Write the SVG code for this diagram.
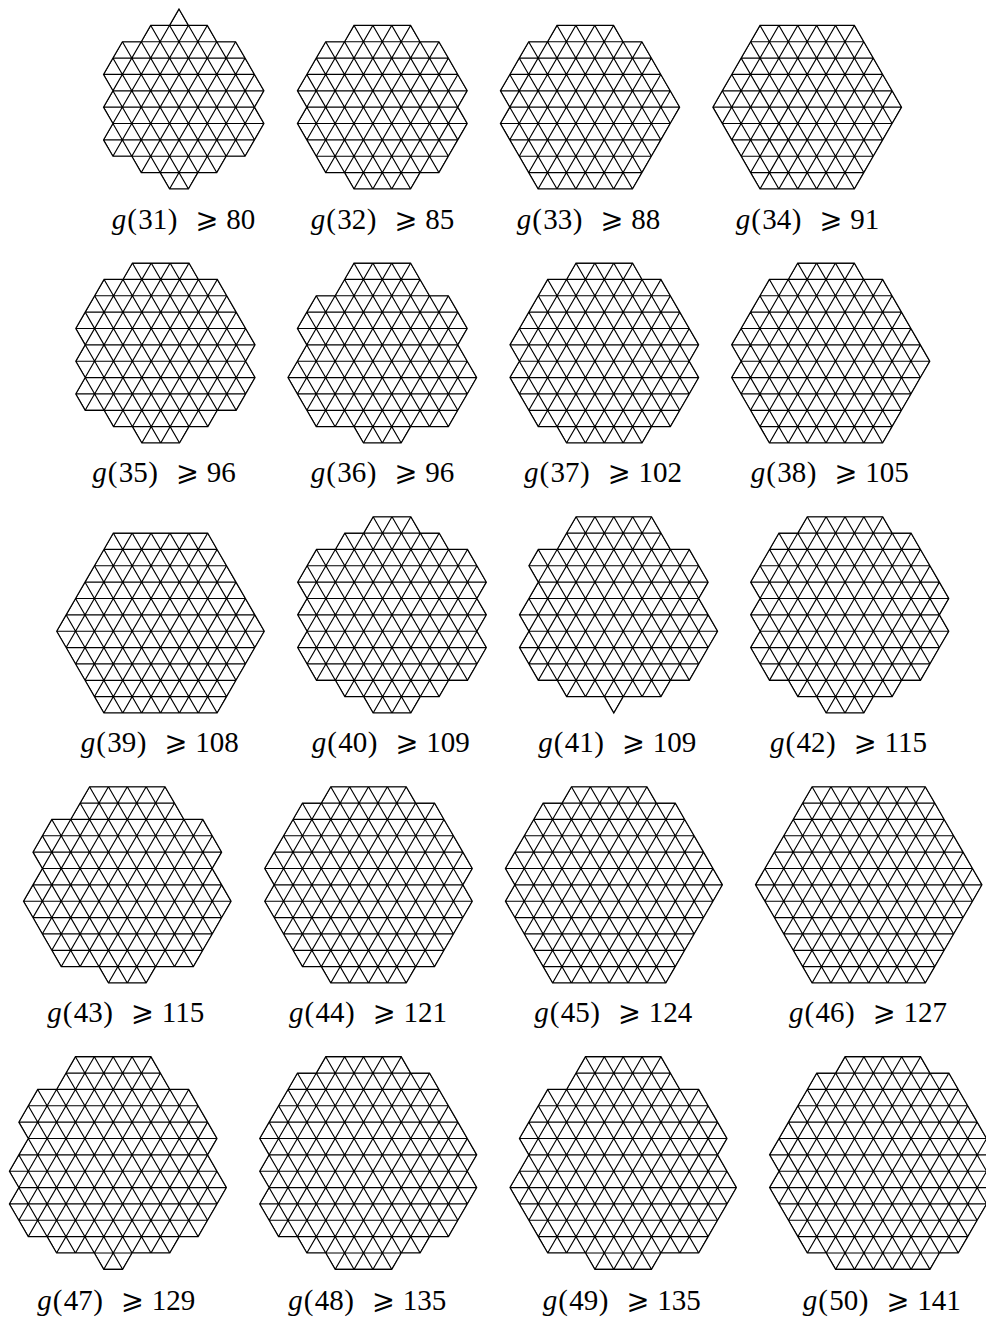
<svg xmlns="http://www.w3.org/2000/svg" width="986" height="1317" viewBox="0 0 986 1317">
<style>
.l,.o{fill:none;stroke:#000;stroke-width:1.15;vector-effect:non-scaling-stroke;stroke-linejoin:miter}
text{font-family:"Liberation Serif","DejaVu Serif",serif;font-size:29px;fill:#000}
.i{font-style:italic}
.m{font-family:"DejaVu Math TeX Gyre","DejaVu Sans",sans-serif;font-size:27px}
</style>
<defs>
<path id="L" class="l" d="M-16 0h32m-32 1h32m-32 1h32m-32 1h32m-32 1h32m-32 1h32m-32 1h32m-32 1h32m-32 1h32m-32 1h32m-32 1h32m-32 1h32m-32 1h32m-32 1h32m-32 1h32
M-30 0l14 14m-12-14l14 14m-12-14l14 14m-12-14l14 14m-12-14l14 14m-12-14l14 14m-12-14l14 14m-12-14l14 14m-12-14l14 14m-12-14l14 14m-12-14l14 14m-12-14l14 14m-12-14l14 14m-12-14l14 14m-12-14l14 14m-12-14l14 14m-12-14l14 14m-12-14l14 14m-12-14l14 14m-12-14l14 14m-12-14l14 14m-12-14l14 14m-12-14l14 14
M-14 0l-14 14m16-14l-14 14m16-14l-14 14m16-14l-14 14m16-14l-14 14m16-14l-14 14m16-14l-14 14m16-14l-14 14m16-14l-14 14m16-14l-14 14m16-14l-14 14m16-14l-14 14m16-14l-14 14m16-14l-14 14m16-14l-14 14m16-14l-14 14m16-14l-14 14m16-14l-14 14m16-14l-14 14m16-14l-14 14m16-14l-14 14m16-14l-14 14m16-14l-14 14"/>
<clipPath id="c31"><use href="#o31"/></clipPath><clipPath id="c32"><use href="#o32"/></clipPath><clipPath id="c33"><use href="#o33"/></clipPath><clipPath id="c34"><use href="#o34"/></clipPath><clipPath id="c35"><use href="#o35"/></clipPath><clipPath id="c36"><use href="#o36"/></clipPath><clipPath id="c37"><use href="#o37"/></clipPath><clipPath id="c38"><use href="#o38"/></clipPath><clipPath id="c39"><use href="#o39"/></clipPath><clipPath id="c40"><use href="#o40"/></clipPath><clipPath id="c41"><use href="#o41"/></clipPath><clipPath id="c42"><use href="#o42"/></clipPath><clipPath id="c43"><use href="#o43"/></clipPath><clipPath id="c44"><use href="#o44"/></clipPath><clipPath id="c45"><use href="#o45"/></clipPath><clipPath id="c46"><use href="#o46"/></clipPath><clipPath id="c47"><use href="#o47"/></clipPath><clipPath id="c48"><use href="#o48"/></clipPath><clipPath id="c49"><use href="#o49"/></clipPath><clipPath id="c50"><use href="#o50"/></clipPath>
</defs>

<g id="n31"><g transform="translate(179 9) scale(9.44 16.36)"><use href="#L" clip-path="url(#c31)"/><path id="o31" class="o" d="M0 0L1 1H3L4 2H6L7 3L8 4L9 5L8 6L9 7L8 8L7 9H5L4 10H2L1 11H-1L-2 10H-4L-5 9H-7L-8 8L-7 7L-8 6L-7 5L-8 4L-7 3L-6 2H-4L-3 1H-1Z"/></g>
<text transform="translate(111.7 229)"><tspan class="i">g</tspan><tspan x="15.5 26.5 41 56">(31)</tspan><tspan x="84.5" class="m">⩾</tspan><tspan x="114.5">80</tspan></text></g>

<g id="n32"><g transform="translate(382.3 9) scale(9.44 16.36)"><use href="#L" clip-path="url(#c32)"/><path id="o32" class="o" d="M-3 1H3L4 2H6L7 3L8 4L9 5L8 6L9 7L8 8L7 9L6 10H4L3 11H-3L-4 10H-6L-7 9L-8 8L-9 7L-8 6L-9 5L-8 4L-7 3L-6 2H-4Z"/></g>
<text transform="translate(310.7 229)"><tspan class="i">g</tspan><tspan x="15.5 26.5 41 56">(32)</tspan><tspan x="84.5" class="m">⩾</tspan><tspan x="114.5">85</tspan></text></g>

<g id="n33"><g transform="translate(585.3 9) scale(9.44 16.36)"><use href="#L" clip-path="url(#c33)"/><path id="o33" class="o" d="M-3 1H3L4 2H6L7 3L8 4L9 5L10 6L9 7L8 8L7 9L6 10L5 11H-5L-6 10L-7 9L-8 8L-9 7L-8 6L-9 5L-8 4L-7 3L-6 2H-4Z"/></g>
<text transform="translate(516.7 229)"><tspan class="i">g</tspan><tspan x="15.5 26.5 41 56">(33)</tspan><tspan x="84.5" class="m">⩾</tspan><tspan x="114.5">88</tspan></text></g>

<g id="n34"><g transform="translate(807.2 9) scale(9.44 16.36)"><use href="#L" clip-path="url(#c34)"/><path id="o34" class="o" d="M-5 1H5L6 2L7 3L8 4L9 5L10 6L9 7L8 8L7 9L6 10L5 11H-5L-6 10L-7 9L-8 8L-9 7L-10 6L-9 5L-8 4L-7 3L-6 2Z"/></g>
<text transform="translate(735.7 229)"><tspan class="i">g</tspan><tspan x="15.5 26.5 41 56">(34)</tspan><tspan x="84.5" class="m">⩾</tspan><tspan x="114.5">91</tspan></text></g>

<g id="n35"><g transform="translate(160.7 246.7) scale(9.44 16.36)"><use href="#L" clip-path="url(#c35)"/><path id="o35" class="o" d="M-3 1H3L4 2H6L7 3L8 4L9 5L10 6L9 7L10 8L9 9L8 10H6L5 11H3L2 12H-2L-3 11H-5L-6 10H-8L-9 9L-8 8L-9 7L-8 6L-9 5L-8 4L-7 3L-6 2H-4Z"/></g>
<text transform="translate(92.3 482)"><tspan class="i">g</tspan><tspan x="15.5 26.5 41 56">(35)</tspan><tspan x="84.5" class="m">⩾</tspan><tspan x="114.5">96</tspan></text></g>

<g id="n36"><g transform="translate(382.3 246.7) scale(9.44 16.36)"><use href="#L" clip-path="url(#c36)"/><path id="o36" class="o" d="M-3 1H3L4 2L5 3H7L8 4L9 5L8 6L9 7L10 8L9 9L8 10L7 11H3L2 12H-2L-3 11H-7L-8 10L-9 9L-10 8L-9 7L-8 6L-9 5L-8 4L-7 3H-5L-4 2Z"/></g>
<text transform="translate(310.7 482)"><tspan class="i">g</tspan><tspan x="15.5 26.5 41 56">(36)</tspan><tspan x="84.5" class="m">⩾</tspan><tspan x="114.5">96</tspan></text></g>

<g id="n37"><g transform="translate(604.3 246.7) scale(9.44 16.36)"><use href="#L" clip-path="url(#c37)"/><path id="o37" class="o" d="M-3 1H3L4 2H6L7 3L8 4L9 5L10 6L9 7L10 8L9 9L8 10L7 11H5L4 12H-4L-5 11H-7L-8 10L-9 9L-10 8L-9 7L-10 6L-9 5L-8 4L-7 3L-6 2H-4Z"/></g>
<text transform="translate(524 482)"><tspan class="i">g</tspan><tspan x="15.5 26.5 41 56">(37)</tspan><tspan x="84.5" class="m">⩾</tspan><tspan x="114.5">102</tspan></text></g>

<g id="n38"><g transform="translate(826 246.7) scale(9.44 16.36)"><use href="#L" clip-path="url(#c38)"/><path id="o38" class="o" d="M-3 1H3L4 2H6L7 3L8 4L9 5L10 6L11 7L10 8L9 9L8 10L7 11L6 12H-6L-7 11L-8 10L-9 9L-10 8L-9 7L-10 6L-9 5L-8 4L-7 3L-6 2H-4Z"/></g>
<text transform="translate(750.7 482)"><tspan class="i">g</tspan><tspan x="15.5 26.5 41 56">(38)</tspan><tspan x="84.5" class="m">⩾</tspan><tspan x="114.5">105</tspan></text></g>

<g id="n39"><g transform="translate(160.5 516.7) scale(9.44 16.36)"><use href="#L" clip-path="url(#c39)"/><path id="o39" class="o" d="M-5 1H5L6 2L7 3L8 4L9 5L10 6L11 7L10 8L9 9L8 10L7 11L6 12H-6L-7 11L-8 10L-9 9L-10 8L-11 7L-10 6L-9 5L-8 4L-7 3L-6 2Z"/></g>
<text transform="translate(80.7 752)"><tspan class="i">g</tspan><tspan x="15.5 26.5 41 56">(39)</tspan><tspan x="84.5" class="m">⩾</tspan><tspan x="114.5">108</tspan></text></g>

<g id="n40"><g transform="translate(392 516.7) scale(9.44 16.36)"><use href="#L" clip-path="url(#c40)"/><path id="o40" class="o" d="M-2 0H2L3 1H5L6 2H8L9 3L10 4L9 5L10 6L9 7L10 8L9 9L8 10H6L5 11H3L2 12H-2L-3 11H-5L-6 10H-8L-9 9L-10 8L-9 7L-10 6L-9 5L-10 4L-9 3L-8 2H-6L-5 1H-3Z"/></g>
<text transform="translate(311.7 752)"><tspan class="i">g</tspan><tspan x="15.5 26.5 41 56">(40)</tspan><tspan x="84.5" class="m">⩾</tspan><tspan x="114.5">109</tspan></text></g>

<g id="n41"><g transform="translate(613.8 516.7) scale(9.44 16.36)"><use href="#L" clip-path="url(#c41)"/><path id="o41" class="o" d="M-4 0H4L5 1L6 2H8L9 3L10 4L9 5L10 6L11 7L10 8L9 9L8 10H6L5 11H1L0 12L-1 11H-5L-6 10H-8L-9 9L-10 8L-9 7L-10 6L-9 5L-8 4L-9 3L-8 2H-6L-5 1Z"/></g>
<text transform="translate(538.3 752)"><tspan class="i">g</tspan><tspan x="15.5 26.5 41 56">(41)</tspan><tspan x="84.5" class="m">⩾</tspan><tspan x="114.5">109</tspan></text></g>

<g id="n42"><g transform="translate(845 516.7) scale(9.44 16.36)"><use href="#L" clip-path="url(#c42)"/><path id="o42" class="o" d="M-4 0H4L5 1H7L8 2L9 3L10 4L11 5L10 6L11 7L10 8L9 9L8 10H6L5 11H3L2 12H-2L-3 11H-5L-6 10H-8L-9 9L-10 8L-9 7L-10 6L-9 5L-10 4L-9 3L-8 2L-7 1H-5Z"/></g>
<text transform="translate(770 752)"><tspan class="i">g</tspan><tspan x="15.5 26.5 41 56">(42)</tspan><tspan x="84.5" class="m">⩾</tspan><tspan x="114.5">115</tspan></text></g>

<g id="n43"><g transform="translate(127.3 786.7) scale(9.44 16.36)"><use href="#L" clip-path="url(#c43)"/><path id="o43" class="o" d="M-4 0H4L5 1L6 2H8L9 3L10 4L9 5L10 6L11 7L10 8L9 9L8 10L7 11H3L2 12H-2L-3 11H-7L-8 10L-9 9L-10 8L-11 7L-10 6L-9 5L-10 4L-9 3L-8 2H-6L-5 1Z"/></g>
<text transform="translate(47.3 1022)"><tspan class="i">g</tspan><tspan x="15.5 26.5 41 56">(43)</tspan><tspan x="84.5" class="m">⩾</tspan><tspan x="114.5">115</tspan></text></g>

<g id="n44"><g transform="translate(368.5 786.7) scale(9.44 16.36)"><use href="#L" clip-path="url(#c44)"/><path id="o44" class="o" d="M-4 0H4L5 1H7L8 2L9 3L10 4L11 5L10 6L11 7L10 8L9 9L8 10L7 11H5L4 12H-4L-5 11H-7L-8 10L-9 9L-10 8L-11 7L-10 6L-11 5L-10 4L-9 3L-8 2L-7 1H-5Z"/></g>
<text transform="translate(289 1022)"><tspan class="i">g</tspan><tspan x="15.5 26.5 41 56">(44)</tspan><tspan x="84.5" class="m">⩾</tspan><tspan x="114.5">121</tspan></text></g>

<g id="n45"><g transform="translate(609.2 786.7) scale(9.44 16.36)"><use href="#L" clip-path="url(#c45)"/><path id="o45" class="o" d="M-4 0H4L5 1H7L8 2L9 3L10 4L11 5L12 6L11 7L10 8L9 9L8 10L7 11L6 12H-6L-7 11L-8 10L-9 9L-10 8L-11 7L-10 6L-11 5L-10 4L-9 3L-8 2L-7 1H-5Z"/></g>
<text transform="translate(534.3 1022)"><tspan class="i">g</tspan><tspan x="15.5 26.5 41 56">(45)</tspan><tspan x="84.5" class="m">⩾</tspan><tspan x="114.5">124</tspan></text></g>

<g id="n46"><g transform="translate(868.7 786.7) scale(9.44 16.36)"><use href="#L" clip-path="url(#c46)"/><path id="o46" class="o" d="M-6 0H6L7 1L8 2L9 3L10 4L11 5L12 6L11 7L10 8L9 9L8 10L7 11L6 12H-6L-7 11L-8 10L-9 9L-10 8L-11 7L-12 6L-11 5L-10 4L-9 3L-8 2L-7 1Z"/></g>
<text transform="translate(789 1022)"><tspan class="i">g</tspan><tspan x="15.5 26.5 41 56">(46)</tspan><tspan x="84.5" class="m">⩾</tspan><tspan x="114.5">127</tspan></text></g>

<g id="n47"><g transform="translate(113.2 1056.7) scale(9.44 16.36)"><use href="#L" clip-path="url(#c47)"/><path id="o47" class="o" d="M-4 0H4L5 1L6 2H8L9 3L10 4L11 5L10 6L11 7L12 8L11 9L10 10L9 11H7L6 12H2L1 13H-1L-2 12H-6L-7 11H-9L-10 10L-11 9L-10 8L-11 7L-10 6L-9 5L-10 4L-9 3L-8 2H-6L-5 1Z"/></g>
<text transform="translate(37.3 1310)"><tspan class="i">g</tspan><tspan x="15.5 26.5 41 56">(47)</tspan><tspan x="84.5" class="m">⩾</tspan><tspan x="114.5">129</tspan></text></g>

<g id="n48"><g transform="translate(363.5 1056.7) scale(9.44 16.36)"><use href="#L" clip-path="url(#c48)"/><path id="o48" class="o" d="M-4 0H4L5 1H7L8 2L9 3L10 4L11 5L12 6L11 7L12 8L11 9L10 10L9 11H7L6 12H4L3 13H-3L-4 12H-6L-7 11H-9L-10 10L-11 9L-10 8L-11 7L-10 6L-11 5L-10 4L-9 3L-8 2L-7 1H-5Z"/></g>
<text transform="translate(288.3 1310)"><tspan class="i">g</tspan><tspan x="15.5 26.5 41 56">(48)</tspan><tspan x="84.5" class="m">⩾</tspan><tspan x="114.5">135</tspan></text></g>

<g id="n49"><g transform="translate(623.2 1056.7) scale(9.44 16.36)"><use href="#L" clip-path="url(#c49)"/><path id="o49" class="o" d="M-4 0H4L5 1L6 2H8L9 3L10 4L11 5L10 6L11 7L12 8L11 9L10 10L9 11L8 12H4L3 13H-3L-4 12H-8L-9 11L-10 10L-11 9L-12 8L-11 7L-10 6L-11 5L-10 4L-9 3L-8 2H-6L-5 1Z"/></g>
<text transform="translate(542.7 1310)"><tspan class="i">g</tspan><tspan x="15.5 26.5 41 56">(49)</tspan><tspan x="84.5" class="m">⩾</tspan><tspan x="114.5">135</tspan></text></g>

<g id="n50"><g transform="translate(882.8 1056.7) scale(9.44 16.36)"><use href="#L" clip-path="url(#c50)"/><path id="o50" class="o" d="M-4 0H4L5 1H7L8 2L9 3L10 4L11 5L12 6L11 7L12 8L11 9L10 10L9 11L8 12H6L5 13H-5L-6 12H-8L-9 11L-10 10L-11 9L-12 8L-11 7L-12 6L-11 5L-10 4L-9 3L-8 2L-7 1H-5Z"/></g>
<text transform="translate(802.7 1310)"><tspan class="i">g</tspan><tspan x="15.5 26.5 41 56">(50)</tspan><tspan x="84.5" class="m">⩾</tspan><tspan x="114.5">141</tspan></text></g>
</svg>
